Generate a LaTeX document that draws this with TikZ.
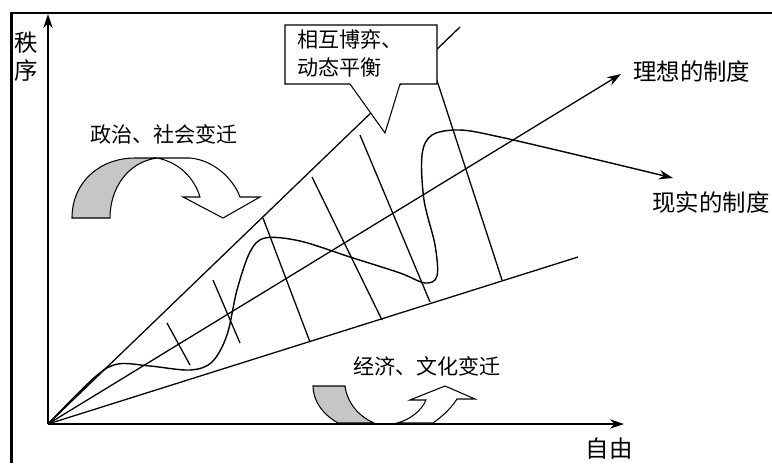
\documentclass[tikz,border=0pt]{standalone}
\usepackage{fontspec}
\newfontfamily\cjk{Noto Sans CJK SC}
\usetikzlibrary{arrows.meta}

\begin{document}
\begin{tikzpicture}[x=0.03cm, y=-0.03cm,
		lbl/.style={font=\cjk\fontsize{18}{24}\selectfont, inner sep=0pt},
		biglbl/.style={font=\cjk\fontsize{20}{24}\selectfont, inner sep=0pt},
		tip/.style={-{Stealth[length=12pt, width=8pt]}}]
				\useasboundingbox (0,0) rectangle (772,463);
				\fill[white] (0,0) rectangle (772,463);
				% frame
				\draw[line width=2.6pt] (11.5,463) -- (11.5,12.5);
				\draw[line width=1.7pt] (10,12.5) -- (772,12.5);
				% axes
				\coordinate (O) at (48,424);
				\coordinate (ytop) at (48,14);
				\coordinate (xend) at (624,424);
				\draw[line width=1.2pt, tip] (O) -- (ytop);
				\draw[line width=1.2pt, tip] (O) -- (xend);
				\node[biglbl, align=center] (order) at (26,57) {秩\\序};
				\node[biglbl] (freedom) at (609,449) {自由};
				% wedge and ideal line
				\coordinate (up) at (460,27);
				\coordinate (ideal) at (621,74);
				\coordinate (low) at (578,257);
				\draw[line width=1.1pt] (O) -- (up);
				\draw[line width=1.1pt] (O) -- (low);
				\draw[line width=1.1pt, tip] (O) -- (ideal);
				\node[biglbl, anchor=west] (idealtxt) at (633,72) {理想的制度};
				% cross lines
				\foreach \xa/\ya/\xb/\yb in {167/323/190/365, 213/280/240/343, 263/218/310/342,
						312/177/382/320, 360/135/430/302, 429/56/502/280}
					\draw[line width=1.1pt] (\xa,\ya) -- (\xb,\yb);
				% real institution curve
				\draw[line width=1.2pt, tip] plot[smooth, tension=0.55] coordinates {(O) (95,377) (118,364) (150,366)
						(190,370) (212,362) (227,335) (237,290) (250,252) (265,238) (300,241)
						(350,257) (400,273) (425,283) (437,276) (435,245) (424,200) (422,155)
						(432,135) (460,130) (500,137) (590,158) (673,178)};
				\node[biglbl] (realtxt) at (711,203) {现实的制度};
				% political / social change arrow
				\filldraw[fill=gray!45, line width=0.9pt] (72,218) .. controls (72,182) and (100,158) .. (135,158)
					-- (157,158) .. controls (128,162) and (110,188) .. (110,218) -- cycle;
				\filldraw[fill=white, line width=0.9pt] (157,158) -- (190,158) .. controls (213,160) and (233,178) .. (240,197)
					-- (260,197) -- (223,218) -- (183,197) -- (200,197) .. controls (194,177) and (178,162) .. (157,158) -- cycle;
				\node[lbl] (poltxt) at (164,134) {政治、社会变迁};
				% economic / cultural change arrow
				\filldraw[fill=gray!45, line width=0.9pt] (313,386) -- (345,386) .. controls (347,402) and (358,416) .. (374,423)
					-- (338,423) .. controls (322,414) and (313,400) .. (313,386) -- cycle;
				\filldraw[fill=white, line width=0.9pt] (397,423) .. controls (410,420) and (422,410) .. (426,400)
					-- (410,400) -- (445,386) -- (475,399) -- (457,399) .. controls (450,410) and (440,418) .. (433,423) -- cycle;
				\node[lbl] (ecotxt) at (427,366) {经济、文化变迁};
				% callout
				\filldraw[fill=white, line width=0.9pt] (285,25) -- (437,25) -- (437,84) -- (400,84) -- (385,133)
					-- (350,84) -- (285,84) -- cycle;
				\node[lbl, anchor=west, align=left] (balance) at (297,53) {相互博弈、\\动态平衡};
		\end{tikzpicture}
\end{document}
